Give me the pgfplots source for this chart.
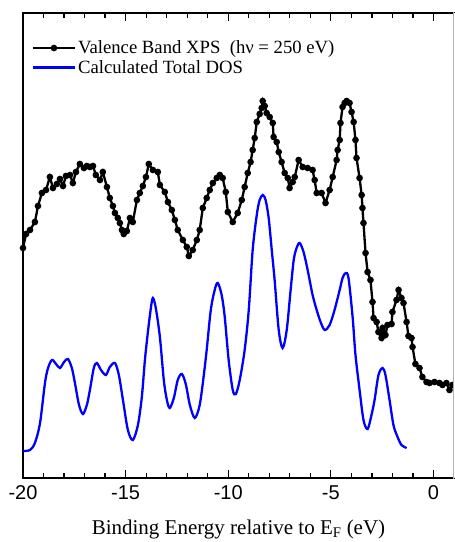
\documentclass[border=0pt]{standalone}
\usepackage{fontspec}
\setmainfont{Liberation Serif}
\newfontfamily\arialfont{Liberation Sans}
\usepackage{pgfplots}
\pgfplotsset{compat=1.18}
\pgfplotsset{legend image code/.code={\draw[mark repeat=2,mark phase=2,#1] plot coordinates {(0pt,0pt)(21pt,0pt)(42pt,0pt)};}}
\begin{document}
\begin{tikzpicture}
\begin{axis}[
 scale only axis, width=431pt, height=465pt,
 xmin=-20, xmax=1, ymin=0, ymax=465,
 xtick={-20,-15,-10,-5,0}, minor x tick num=4,
 ytick=\empty, minor ytick={133,267,400}, ytick pos=left,
 xtick pos=both, xticklabel pos=bottom,
 tick align=inside,
 major tick length=8pt, minor tick length=5pt,
 axis line style={line width=1.4pt},
 every tick/.style={black, line width=1.2pt},
 x tick label style={font=\arialfont\fontsize{20}{23}\selectfont, yshift=-4pt},
 /pgf/number format/assume math mode=true,
 xlabel={Binding Energy relative to E\textsubscript{F} (eV)},
 xlabel style={font=\fontsize{21}{24}\selectfont, yshift=-13pt, overlay},
 legend style={draw=none, fill=none, at={(0.02,0.945)}, anchor=north west, font=\fontsize{18.7}{21}\selectfont, row sep=1pt, inner sep=0pt},
 legend cell align=left,
]
\addplot[black, line width=2.3pt, mark=*, mark size=2.1pt] coordinates {
(-20.00,230)(-19.85,244)(-19.66,248)(-19.42,256)(-19.27,272)(-19.08,285)(-18.88,288)(-18.69,301)
(-18.54,290)(-18.35,294)(-18.20,299)(-18.05,292)(-17.91,302)(-17.71,303)(-17.57,295)(-17.42,306)
(-17.23,314)(-17.03,310)(-16.89,312)(-16.74,311)(-16.59,312)(-16.45,303)(-16.25,298)(-16.11,306)
(-15.91,291)(-15.77,280)(-15.62,272)(-15.52,265)(-15.38,260)(-15.28,255)(-15.18,248)(-15.09,244)
(-14.94,247)(-14.79,260)(-14.65,256)(-14.45,278)(-14.31,285)(-14.16,292)(-14.01,301)(-13.87,314)
(-13.67,308)(-13.43,306)(-13.33,293)(-13.09,286)(-12.94,276)(-12.75,268)(-12.60,258)(-12.46,248)
(-12.21,238)(-12.02,231)(-11.92,222)(-11.73,228)(-11.53,238)(-11.39,248)(-11.24,270)(-11.05,280)
(-10.90,288)(-10.75,295)(-10.56,300)(-10.41,303)(-10.27,300)(-10.12,286)(-10.02,266)(-9.78,256)
(-9.54,265)(-9.34,278)(-9.20,291)(-9.05,305)(-8.91,316)(-8.81,328)(-8.71,340)(-8.61,356)
(-8.47,364)(-8.37,370)(-8.32,377)(-8.22,372)(-8.13,365)(-7.98,361)(-7.83,355)(-7.79,341)
(-7.64,336)(-7.54,326)(-7.40,316)(-7.25,305)(-7.10,300)(-7.01,290)(-6.86,296)(-6.76,301)
(-6.57,318)(-6.37,311)(-6.13,310)(-5.89,308)(-5.79,298)(-5.69,285)(-5.45,285)(-5.26,275)
(-5.06,288)(-4.91,301)(-4.72,318)(-4.67,328)(-4.57,338)(-4.53,355)(-4.43,371)(-4.33,375)
(-4.23,377)(-4.09,375)(-3.99,366)(-3.89,356)(-3.80,338)(-3.75,320)(-3.60,300)(-3.50,283)
(-3.46,270)(-3.41,255)(-3.31,225)(-3.21,206)(-3.07,198)(-2.97,176)(-2.92,160)(-2.77,156)
(-2.68,146)(-2.53,140)(-2.48,150)(-2.34,143)(-2.24,153)(-2.04,154)(-2.00,166)(-1.80,178)
(-1.70,188)(-1.56,180)(-1.46,175)(-1.31,156)(-1.22,142)(-1.07,140)(-1.02,131)(-0.88,114)
(-0.68,110)(-0.54,101)(-0.34,96)(-0.19,95)(0.05,96)(0.29,95)(0.44,93)(0.63,95)(0.78,88)(0.92,93)
};
\addlegendentry{Valence Band XPS\ \ (hν = 250 eV)}
\addplot[blue, line width=2.3pt, smooth, no markers] coordinates {
(-20.00,27)(-19.66,28)(-19.42,35)(-19.17,55)(-18.93,95)(-18.78,110)(-18.59,118)(-18.39,114)
(-18.20,110)(-18.00,116)(-17.81,119)(-17.62,110)(-17.47,95)(-17.27,73)(-17.08,64)(-16.89,73)
(-16.74,88)(-16.55,110)(-16.40,115)(-16.20,108)(-15.96,103)(-15.77,111)(-15.52,115)(-15.33,103)
(-15.13,78)(-14.89,48)(-14.65,38)(-14.40,53)(-14.21,81)(-14.06,118)(-13.92,145)(-13.77,170)
(-13.67,180)(-13.53,170)(-13.33,141)(-13.14,98)(-12.99,78)(-12.85,70)(-12.65,80)(-12.46,98)
(-12.26,104)(-12.07,94)(-11.87,73)(-11.63,60)(-11.39,73)(-11.19,103)(-11.05,128)(-10.85,168)
(-10.66,188)(-10.51,195)(-10.32,183)(-10.17,161)(-9.98,118)(-9.78,88)(-9.63,84)(-9.44,98)
(-9.20,128)(-9.00,168)(-8.81,228)(-8.61,263)(-8.47,278)(-8.32,283)(-8.18,278)(-8.03,260)
(-7.88,228)(-7.74,198)(-7.54,148)(-7.35,130)(-7.15,148)(-6.96,188)(-6.81,218)(-6.67,230)
(-6.52,235)(-6.33,226)(-6.13,208)(-5.89,183)(-5.69,168)(-5.50,156)(-5.30,148)(-5.06,153)
(-4.82,168)(-4.57,188)(-4.43,200)(-4.28,205)(-4.14,200)(-3.94,161)(-3.80,123)(-3.60,88)
(-3.41,58)(-3.21,49)(-3.02,63)(-2.87,78)(-2.68,103)(-2.48,110)(-2.34,103)(-2.14,78)
(-1.95,53)(-1.75,41)(-1.56,33)(-1.31,30)
};
\addlegendentry{Calculated Total DOS}
\end{axis}
\draw[white, line width=1.8pt] (current axis.south east) -- (current axis.north east);
\draw[gray!60, line width=1pt] ([yshift=-0.7pt]current axis.south east) -- ([yshift=0.7pt]current axis.north east);
\path ([shift={(-23pt,-64pt)}]current axis.south west) rectangle ([shift={(0pt,13pt)}]current axis.north east);
\end{tikzpicture}
\end{document}
